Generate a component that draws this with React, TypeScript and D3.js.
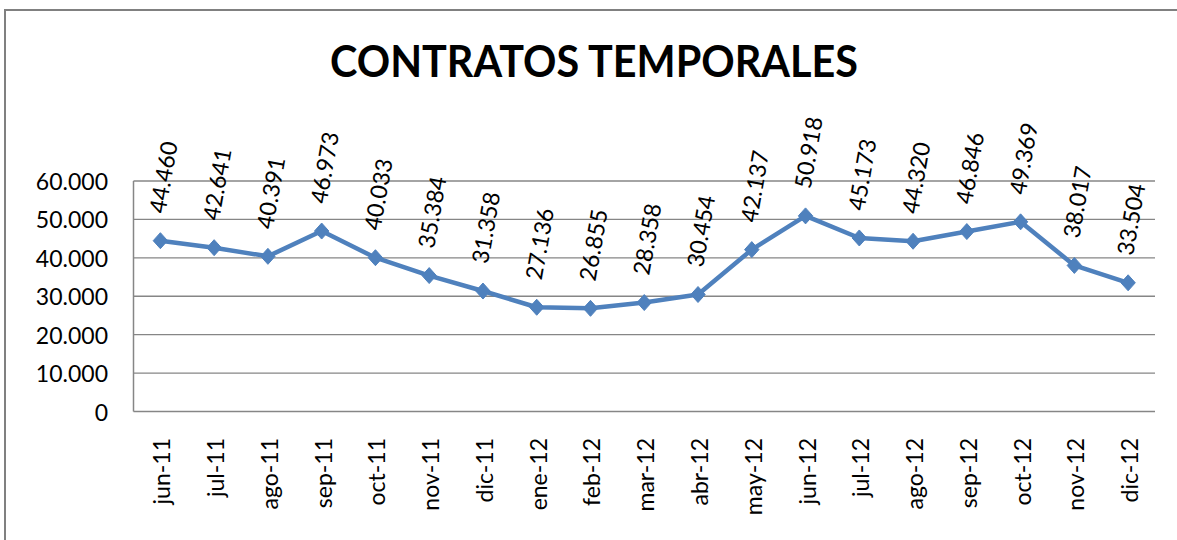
import React from "react";
import * as d3 from "d3";

const categories = ["jun-11","jul-11","ago-11","sep-11","oct-11","nov-11","dic-11","ene-12","feb-12","mar-12","abr-12","may-12","jun-12","jul-12","ago-12","sep-12","oct-12","nov-12","dic-12"];
const values = [44460,42641,40391,46973,40033,35384,31358,27136,26855,28358,30454,42137,50918,45173,44320,46846,49369,38017,33504];
const yTicks = [0,10000,20000,30000,40000,50000,60000];
const title = "CONTRATOS TEMPORALES";

const W = 1177, H = 540;
const plot = { left: 133.5, right: 1155, top: 181, bottom: 411.5 };
const FONT = "Lato, 'Open Sans', sans-serif";
const BLUE = "#4F81BD";
const GRID = "#868686";

const locale = d3.formatLocale({ decimal: ",", thousands: ".", grouping: [3], currency: ["", ""] });
const fmt = locale.format(",d");

const diamond = {
  draw(ctx: any, size: number) {
    const h = Math.sqrt(size) / 2;
    const w = h * 0.9;
    ctx.moveTo(0, -h);
    ctx.lineTo(w, 0);
    ctx.lineTo(0, h);
    ctx.lineTo(-w, 0);
    ctx.closePath();
  },
};

export default function App() {
  const x = d3.scaleBand().domain(categories).range([plot.left, plot.right]);
  const y = d3.scaleLinear().domain([0, 60000]).range([plot.bottom, plot.top]);
  const cx = (c: string) => (x(c) as number) + x.bandwidth() / 2;
  const line = d3.line<number>().x((_, i) => cx(categories[i])).y((d) => y(d));
  const sym = d3.symbol().type(diamond as any).size(16 * 16)();

  return (
    <svg width={W} height={H} style={{ position: "absolute", left: 0, top: 0, background: "#fff" }}>
      <rect x={5} y={10} width={W + 10} height={H + 10} fill="#fff" stroke="#808080" strokeWidth={2} />
      <text x={594} y={77} textAnchor="middle" fontFamily={FONT} fontWeight="bold" fontSize={43}
        textLength={528} lengthAdjust="spacingAndGlyphs" fill="#000">{title}</text>
      {yTicks.map((t) => (
        <g key={t}>
          {t > 0 && <line x1={plot.left} x2={plot.right} y1={y(t)} y2={y(t)} stroke={GRID} strokeWidth={1.3} />}
          <text x={108} y={y(t)} textAnchor="end" dominantBaseline="central" fontFamily={FONT} fontSize={23} fill="#000">{fmt(t)}</text>
        </g>
      ))}
      <line x1={plot.left} x2={plot.left} y1={plot.top} y2={plot.bottom} stroke={GRID} strokeWidth={1.5} />
      <line x1={plot.left} x2={plot.right} y1={plot.bottom} y2={plot.bottom} stroke={GRID} strokeWidth={1.5} />
      {categories.map((c) => (
        <text key={c} transform={`translate(${cx(c) + 1},438) rotate(-90)`} textAnchor="end" dominantBaseline="central"
          fontFamily={FONT} fontSize={23} fill="#000">{c}</text>
      ))}
      <path d={line(values) || ""} fill="none" stroke={BLUE} strokeWidth={4.5} strokeLinejoin="round" />
      {values.map((v, i) => (
        <path key={i} d={sym || ""} transform={`translate(${cx(categories[i])},${y(v)})`} fill={BLUE} stroke={BLUE} strokeWidth={1} />
      ))}
      {values.map((v, i) => (
        <text key={"l" + i} transform={`translate(${cx(categories[i]) - 4},${y(v) - 28}) rotate(-80)`} textAnchor="start"
          dominantBaseline="central" fontFamily={FONT} fontSize={23} fill="#000">{fmt(v)}</text>
      ))}
    </svg>
  );
}
